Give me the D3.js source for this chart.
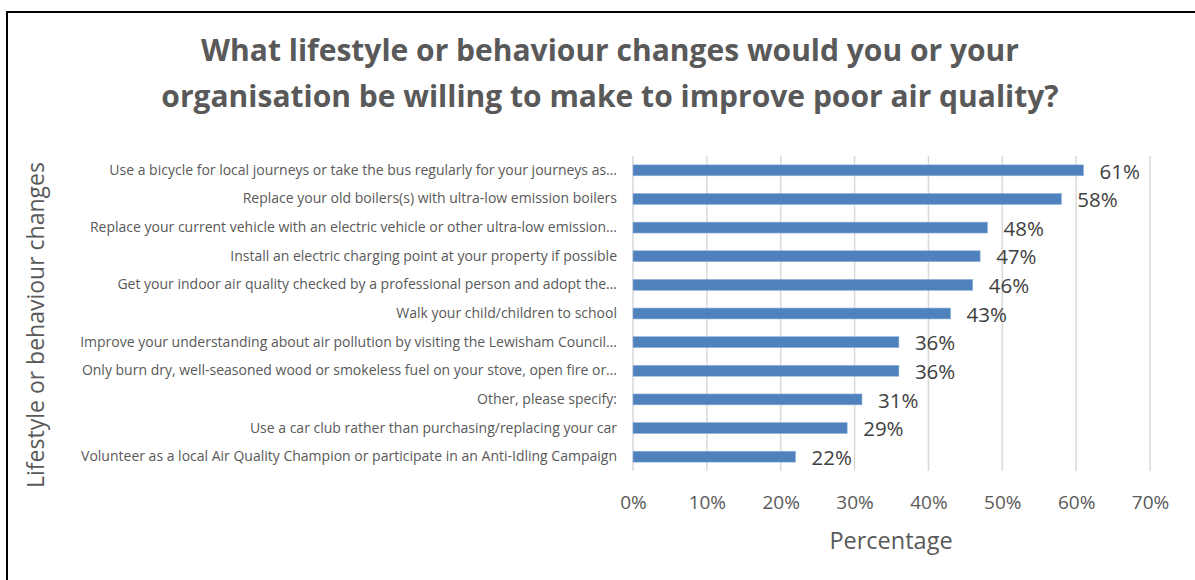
<!DOCTYPE html>
<html>
<head>
<meta charset="utf-8">
<script src="https://cdn.jsdelivr.net/npm/d3@7"></script>
<style>
  html, body { margin: 0; padding: 0; background: #fff; }
  svg { display: block; }
  text { font-family: "Open Sans", Lato, "Liberation Sans", sans-serif; }
</style>
</head>
<body>
<svg id="chart" width="1195" height="580"></svg>
<script>
// Survey responses: share of respondents willing to make each change
const categories = [
  "Use a bicycle for local journeys or take the bus regularly for your journeys as\u2026",
  "Replace your old boilers(s) with ultra-low emission boilers",
  "Replace your current vehicle with an electric vehicle or other ultra-low emission\u2026",
  "Install an electric charging point at your property if possible",
  "Get your indoor air quality checked by a professional person and adopt the\u2026",
  "Walk your child/children to school",
  "Improve your understanding about air pollution by visiting the Lewisham Council\u2026",
  "Only burn dry, well-seasoned wood or smokeless fuel on your stove, open fire or\u2026",
  "Other, please specify:",
  "Use a car club rather than purchasing/replacing your car",
  "Volunteer as a local Air Quality Champion or participate in an Anti-Idling Campaign"
];
const percentages = [0.61, 0.58, 0.48, 0.47, 0.46, 0.43, 0.36, 0.36, 0.31, 0.29, 0.22];
const tickValues = [0, 0.1, 0.2, 0.3, 0.4, 0.5, 0.6, 0.7];
const titleLines = [
  "What lifestyle or behaviour changes would you or your",
  "organisation be willing to make to improve poor air quality?"
];
const xTitle = "Percentage";
const yTitle = "Lifestyle or behaviour changes";

const FONT = "'Open Sans', Lato, sans-serif";
const svg = d3.select("#chart");

// Frame line along the left and top edges
svg.append("path")
  .attr("d", "M7,580 V12 H1195")
  .attr("fill", "none")
  .attr("stroke", "#000")
  .attr("stroke-width", 2);

// Title
svg.append("g").selectAll("text")
  .data(titleLines)
  .join("text")
  .attr("x", 610)
  .attr("y", (d, i) => 61 + i * 46)
  .attr("text-anchor", "middle")
  .attr("font-size", 30)
  .attr("font-weight", 700)
  .attr("fill", "#595959")
  .text(d => d);

const plot = { left: 633, right: 1150, top: 156, bottom: 471 };

const x = d3.scaleLinear().domain([0, 0.7]).range([plot.left, plot.right]);
const y = d3.scaleBand().domain(categories).range([plot.top, plot.bottom]).paddingInner(0.62).paddingOuter(0.31);

// Vertical gridlines
svg.append("g").selectAll("line")
  .data(tickValues)
  .join("line")
  .attr("x1", d => x(d)).attr("x2", d => x(d))
  .attr("y1", plot.top).attr("y2", plot.bottom)
  .attr("stroke", "#d9d9d9")
  .attr("stroke-width", 1.5);

// X axis tick labels
const xAxis = d3.axisBottom(x)
  .tickValues(tickValues)
  .tickFormat(d3.format(".0%"))
  .tickSize(0)
  .tickPadding(0);
const gx = svg.append("g")
  .attr("transform", `translate(0,${plot.bottom})`)
  .call(xAxis);
gx.select(".domain").remove();
gx.selectAll("text")
  .attr("dy", null)
  .attr("y", 38)
  .attr("font-size", 19)
  .attr("font-family", FONT)
  .attr("fill", "#595959");

// Category labels
const yAxis = d3.axisLeft(y).tickSize(0).tickPadding(16);
const gy = svg.append("g")
  .attr("transform", `translate(${plot.left},0)`)
  .call(yAxis);
gy.select(".domain").remove();
gy.selectAll("text")
  .attr("font-size", 14)
  .attr("font-family", FONT)
  .attr("fill", "#595959");

// Bars
svg.append("g").selectAll("rect")
  .data(percentages)
  .join("rect")
  .attr("x", x(0))
  .attr("y", (d, i) => y(categories[i]))
  .attr("width", d => x(d) - x(0))
  .attr("height", y.bandwidth())
  .attr("fill", "#4f81bd")
  .attr("stroke", "#8eb1dc")
  .attr("stroke-width", 0.6);

// Value labels
svg.append("g").selectAll("text")
  .data(percentages)
  .join("text")
  .attr("x", d => x(d) + 16)
  .attr("y", (d, i) => y(categories[i]) + y.bandwidth() / 2)
  .attr("dy", "0.4em")
  .attr("font-size", 20.5)
  .attr("fill", "#404040")
  .text(d => d3.format(".0%")(d));

// Axis titles
svg.append("text")
  .attr("x", 891)
  .attr("y", 549)
  .attr("text-anchor", "middle")
  .attr("font-size", 23.5)
  .attr("fill", "#595959")
  .text(xTitle);

svg.append("text")
  .attr("transform", "translate(44,325) rotate(-90)")
  .attr("text-anchor", "middle")
  .attr("font-size", 23)
  .attr("fill", "#595959")
  .text(yTitle);
</script>
</body>
</html>
